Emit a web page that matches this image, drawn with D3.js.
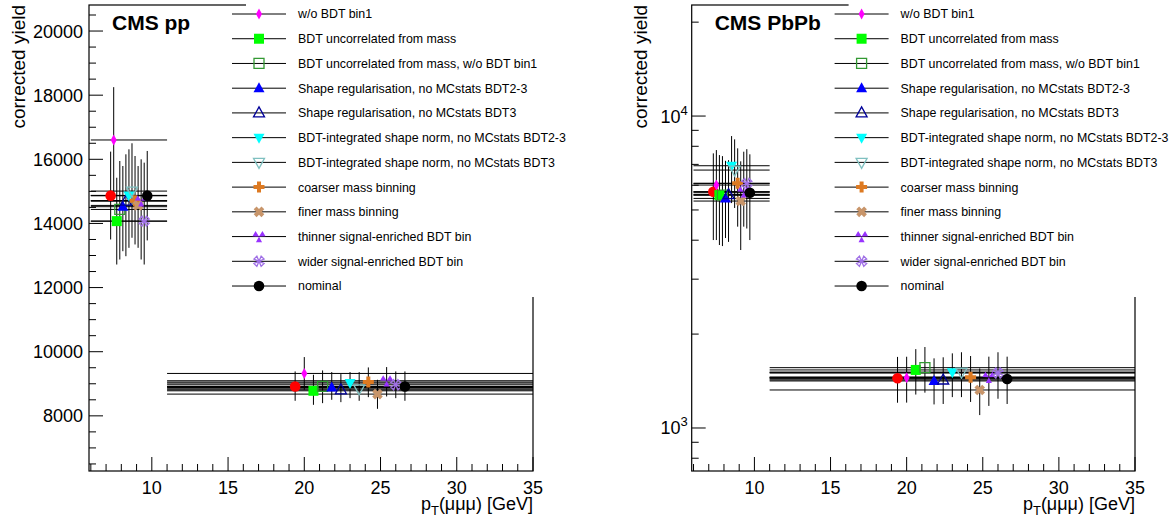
<!DOCTYPE html>
<html><head><meta charset="utf-8">
<script src="https://cdn.jsdelivr.net/npm/d3@7"></script>
<style>
body{margin:0;background:#fff;}
svg{display:block;font-family:"Liberation Sans",Arial,sans-serif;}
</style></head>
<body><svg id="c" width="1174" height="519"></svg>
<script>
// ---------------- data ----------------
const binEdges = [6, 11, 35];
const binCenters = [8.5, 23];
const offsetStep = [0.2, 0.6];           // per-series x shift inside each bin
const xTicks = [10, 15, 20, 25, 30, 35];
const ppYTicks = [8000, 10000, 12000, 14000, 16000, 18000, 20000];
const pbYTicks = [1000, 10000];

const seriesLabels = [null, "w/o BDT bin1", "BDT uncorrelated from mass", "BDT uncorrelated from mass, w/o BDT bin1",
  "Shape regularisation, no MCstats BDT2-3", "Shape regularisation, no MCstats BDT3",
  "BDT-integrated shape norm, no MCstats BDT2-3", "BDT-integrated shape norm, no MCstats BDT3",
  "coarser mass binning", "finer mass binning", "thinner signal-enriched BDT bin",
  "wider signal-enriched BDT bin", "nominal"];
const seriesMarkers = ["circle","diamond","square","openSquare","triUp","openTriUp","triDown","openTriDown",
  "plus","xcross","threeTri","openX","circle"];
const seriesColors = ["#ff0000","#ff00ff","#00ff00","#339933","#0000ff","#000099","#00ffff","#7fc0c0",
  "#dd7a22","#c8956a","#9933ff","#a070e6","#000000"];

// pp: values and error-bar bounds (bin 1, bin 2)
const ppVal1 = [14866,16603,14072,14437,14522,14697,14875,15009,14709,14562,14709,14072,14866];
const ppHi1  = [16240,18250,15425,15947,15791,16156,16312,16500,16103,15790,16000,15896,16260];
const ppLo1  = [13500,14950,12719,12875,13134,12978,13240,13553,13344,13240,12875,12719,13470];
const ppVal2 = [8916,9322,8781,8916,8884,8812,9022,8844,9053,8678,9094,8969,8916];
const ppHi2  = [9385,9833,9281,9416,9365,9302,9365,9365,9510,9125,9521,9385,9385];
const ppLo2  = [8469,8812,8344,8396,8500,8427,8552,8469,8583,8219,8604,8552,8469];
// PbPb
const pbVal1 = [5720,6010,5580,5580,5445,5600,6930,6712,6085,5340,5720,6085,5678];
const pbHi1  = [7593,7780,7498,7440,7186,7220,8627,8420,7880,7160,7687,7830,7540];
const pbLo1  = [4004,4004,3860,3830,4064,3950,5260,5073,4420,3720,4420,4360,4004];
const pbVal2 = [1443,1450,1535,1561,1415,1425,1509,1509,1455,1324,1455,1500,1436];
const pbHi2  = [1690,1692,1790,1818,1672,1685,1735,1749,1701,1552,1693,1749,1693];
const pbLo2  = [1205,1206,1280,1298,1190,1194,1256,1256,1212,1100,1177,1241,1194];

// ---------------- drawing ----------------
const svg = d3.select("#c");
const FT = 18;

function markerPath(t){
  switch(t){
    case "diamond": return "M0,-5.5L3,0L0,5.5L-3,0Z";
    case "square": case "openSquare": return "M-5,-5H5V5H-5Z";
    case "triUp": case "openTriUp": return "M0,-6L5.5,4L-5.5,4Z";
    case "triDown": case "openTriDown": return "M0,6L5.5,-4L-5.5,-4Z";
    case "plus": return "M-2,-5.5H2V-2H5.5V2H2V5.5H-2V2H-5.5V-2H-2Z";
    case "xcross": {
      const p=[[-2,-5.5],[2,-5.5],[2,-2],[5.5,-2],[5.5,2],[2,2],[2,5.5],[-2,5.5],[-2,2],[-5.5,2],[-5.5,-2],[-2,-2]];
      const c=Math.SQRT1_2;
      return "M"+p.map(([x,y])=>[(x-y)*c,(x+y)*c].map(v=>v.toFixed(2)).join(",")).join("L")+"Z";
    }
    case "threeTri": {
      let d="";
      [-150,-30,90].forEach(a=>{
        const r=6.5, h=28*Math.PI/180, ar=a*Math.PI/180;
        d+=`M0,0L${(r*Math.cos(ar-h)).toFixed(2)},${(r*Math.sin(ar-h)).toFixed(2)}L${(r*Math.cos(ar+h)).toFixed(2)},${(r*Math.sin(ar+h)).toFixed(2)}Z`;
      });
      return d;
    }
    case "openX": {
      let d="";
      [45,135,225,315].forEach(a=>{
        const r=5.5, h=22*Math.PI/180, ar=a*Math.PI/180;
        d+=`M0,0L${(r*Math.cos(ar-h)).toFixed(2)},${(r*Math.sin(ar-h)).toFixed(2)}L${(r*Math.cos(ar+h)).toFixed(2)},${(r*Math.sin(ar+h)).toFixed(2)}Z`;
      });
      return d;
    }
  }
  return null;
}
function drawMarker(g, t, color, x, y){
  if(t==="circle"){
    g.append("circle").attr("cx",x).attr("cy",y).attr("r",5.3).attr("fill",color);
    return;
  }
  const open = t.startsWith("open");
  g.append("path").attr("d",markerPath(t)).attr("transform",`translate(${x},${y})`)
    .attr("fill",open?"#fff":color).attr("stroke",open?color:"none").attr("stroke-width",open?1.3:0)
    .attr("fill-opacity",open?0:1);
}

function panel(cfg){
  const x = d3.scaleLinear().domain([5.88,35]).range(cfg.xr);
  const y = cfg.log ? d3.scaleLog().domain(cfg.yd).range([471,5]) : d3.scaleLinear().domain(cfg.yd).range([471,5]);
  const g = svg.append("g");
  const [x0,x1]=cfg.xr;

  const bins = [[cfg.v1,cfg.hi1,cfg.lo1],[cfg.v2,cfg.hi2,cfg.lo2]];
  const dg = g.append("g");
  bins.forEach((b,bi)=>{
    const xl = Math.max(binEdges[bi],5.88), xh = binEdges[bi+1];
    b[0].forEach((v,i)=>{
      dg.append("line").attr("x1",x(xl)).attr("x2",x(xh)).attr("y1",y(v)).attr("y2",y(v))
        .attr("stroke","#000").attr("stroke-width",1);
    });
  });
  bins.forEach((b,bi)=>{
    b[0].forEach((v,i)=>{
      const xp = x(binCenters[bi] + (i-6)*offsetStep[bi]);
      dg.append("line").attr("x1",xp).attr("x2",xp).attr("y1",y(b[1][i])).attr("y2",y(b[2][i]))
        .attr("stroke","#000").attr("stroke-width",1);
    });
  });
  bins.forEach((b,bi)=>{
    b[0].forEach((v,i)=>{
      const xp = x(binCenters[bi] + (i-6)*offsetStep[bi]);
      drawMarker(dg, seriesMarkers[i], seriesColors[i], xp, y(v));
    });
  });

  g.append("rect").attr("x",x0).attr("y",5).attr("width",x1-x0).attr("height",466)
    .attr("fill","none").attr("stroke","#000").attr("stroke-width",1.2);

  const ax = g.append("g");
  d3.range(6,36).forEach(t=>{
    const major = t%5===0;
    ax.append("line").attr("x1",x(t)).attr("x2",x(t)).attr("y1",471).attr("y2",471-(major?14:7))
      .attr("stroke","#000").attr("stroke-width",1);
  });
  xTicks.forEach(t=>{
    ax.append("text").attr("x",x(t)).attr("y",494).attr("text-anchor","middle")
      .attr("font-size",FT).text(t);
  });
  const xt = ax.append("text").attr("x",x1).attr("y",510).attr("text-anchor","end").attr("font-size",FT);
  xt.append("tspan").text("p");
  xt.append("tspan").attr("font-size",13).attr("dy",5).text("T");
  xt.append("tspan").attr("dy",-5).text("(μμμ) [GeV]");

  if(!cfg.log){
    d3.range(6500,20801,500).forEach(t=>{
      const major = t%2000===0;
      ax.append("line").attr("x1",x0).attr("x2",x0+(major?14:7)).attr("y1",y(t)).attr("y2",y(t))
        .attr("stroke","#000").attr("stroke-width",1);
    });
    ppYTicks.forEach(t=>{
      ax.append("text").attr("x",x0-6).attr("y",y(t)).attr("dy","0.36em").attr("text-anchor","end")
        .attr("font-size",FT).text(t);
    });
  } else {
    const minors=[];
    [100,1000,10000].forEach(d=>{ for(let k=1;k<10;k++){ const v=k*d; if(v>=cfg.yd[0]&&v<=cfg.yd[1]) minors.push(v);} });
    minors.forEach(t=>{
      const major = pbYTicks.includes(t);
      ax.append("line").attr("x1",x0).attr("x2",x0+(major?14:7)).attr("y1",y(t)).attr("y2",y(t))
        .attr("stroke","#000").attr("stroke-width",1);
    });
    pbYTicks.forEach(t=>{
      const tx = ax.append("text").attr("x",x0-4).attr("y",y(t)).attr("dy","0.36em").attr("text-anchor","end")
        .attr("font-size",FT);
      tx.append("tspan").text("10");
      tx.append("tspan").attr("font-size",13).attr("dy",-8).text(Math.round(Math.log10(t)));
    });
  }
  ax.append("text").attr("transform",`translate(${cfg.ytx},5) rotate(-90)`).attr("text-anchor","end")
    .attr("dy","0.35em").attr("font-size",19).text("corrected yield");

  const lg = g.append("g");
  lg.append("rect").attr("x",cfg.lx0).attr("y",0).attr("width",cfg.lw).attr("height",297).attr("fill","#fff");
  let row=0;
  seriesLabels.forEach((lab,i)=>{
    if(lab===null) return;
    const ly = 14 + row*24.73; row++;
    lg.append("line").attr("x1",cfg.ls).attr("x2",cfg.ls+54).attr("y1",ly).attr("y2",ly)
      .attr("stroke","#000").attr("stroke-width",1);
    drawMarker(lg, seriesMarkers[i], seriesColors[i], cfg.ls+27, ly);
    lg.append("text").attr("x",cfg.ls+66).attr("y",ly).attr("dy","0.36em").attr("font-size",12.4).text(lab);
  });

  g.append("text").attr("x",x0+23).attr("y",30).attr("font-size",21).attr("font-weight","bold").text(cfg.title);
}

panel({xr:[89,533], log:false, yd:[6280,20812], title:"CMS pp", ytx:18, lx0:246, lw:330, ls:232,
  v1:ppVal1,hi1:ppHi1,lo1:ppLo1,v2:ppVal2,hi2:ppHi2,lo2:ppLo2});
panel({xr:[691.7,1135], log:true, yd:[728,22700], title:"CMS PbPb", ytx:640, lx0:848.6, lw:330, ls:834.6,
  v1:pbVal1,hi1:pbHi1,lo1:pbLo1,v2:pbVal2,hi2:pbHi2,lo2:pbLo2});
</script></body></html>
